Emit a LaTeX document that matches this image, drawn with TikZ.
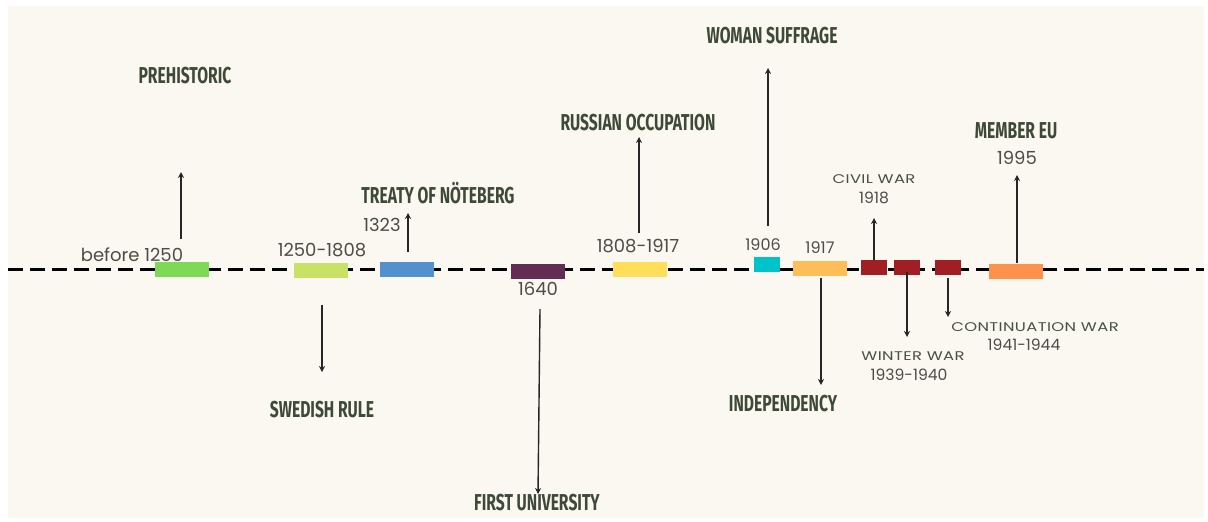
\documentclass[tikz,border=0pt]{standalone}
\usepackage{fontspec}
\usepackage{xcolor}
\usetikzlibrary{arrows.meta}
\setmainfont{Poppins}
\newfontfamily\headfont[FakeStretch=0.68]{Fira Sans}
\newfontfamily\widefont[FakeStretch=1.3,LetterSpace=3]{Poppins}
\definecolor{bgcream}{HTML}{FBF7F1}
\definecolor{headtxt}{HTML}{3E4A38}
\definecolor{yeartxt}{HTML}{4D4D47}
\definecolor{cprehist}{HTML}{7ED957}
\definecolor{cswede}{HTML}{C9E265}
\definecolor{ctreaty}{HTML}{5291CB}
\definecolor{cuni}{HTML}{632C53}
\definecolor{crussia}{HTML}{FFDE59}
\definecolor{csuffrage}{HTML}{00C2CB}
\definecolor{cindep}{HTML}{FFBD59}
\definecolor{cwar}{HTML}{A11E25}
\definecolor{ceu}{HTML}{FF914D}
\tikzset{
  era/.style={inner sep=0pt,minimum width=27pt,minimum height=7.5pt},
  shortera/.style={era,minimum width=13pt},
  heading/.style={font=\headfont\bfseries\fontsize{11.5}{12}\selectfont,text=headtxt,inner sep=0pt},
  year/.style={font=\fontsize{9}{10}\selectfont,text=yeartxt,inner sep=0pt},
  smallyear/.style={font=\fontsize{7.8}{8}\selectfont,text=yeartxt,inner sep=0pt},
  smallhead/.style={font=\widefont\fontsize{6.3}{7}\selectfont,text=headtxt!85!gray,inner sep=0pt},
  evarrow/.style={-{Stealth[length=3pt,width=3pt]},line width=0.7pt,black!85}
}
\begin{document}
\begin{tikzpicture}[x=0.5pt,y=-0.5pt]
\useasboundingbox (0,0) rectangle (1208,521);
\fill[white] (0,0) rectangle (1208,521);
\fill[bgcream] (8,6) rectangle (1204,518);
% the time axis
\draw[line width=1.5pt,dash pattern=on 7.5pt off 3.5pt] (8,269) -- (1204,269);
% eras on the axis
\node[era,fill=cprehist] (bPre) at (182,269.5) {};
\node[era,fill=cswede] (bSwe) at (321,270.5) {};
\node[era,fill=ctreaty] (bTre) at (407,269) {};
\node[era,fill=cuni] (bUni) at (538,271) {};
\node[era,fill=crussia] (bRus) at (640,269) {};
\node[shortera,fill=csuffrage] (bSuf) at (766.5,264) {};
\node[era,fill=cindep] (bInd) at (820,268) {};
\node[shortera,fill=cwar] (bCiv) at (874,267) {};
\node[shortera,fill=cwar] (bWin) at (907,267) {};
\node[shortera,fill=cwar] (bCon) at (948,267) {};
\node[era,fill=ceu] (bEU) at (1016,271) {};
% years
\node[year] (yPre) at (132,255) {before 1250};
\node[year] (ySwe) at (322,250) {1250-1808};
\node[year] (yTre) at (382,225) {1323};
\node[year] (yUni) at (538,289) {1640};
\node[year] (yRus) at (638,246) {1808-1917};
\node[year,font=\fontsize{8}{9}\selectfont] (ySuf) at (763,245) {1906};
\node[year,font=\fontsize{8}{9}\selectfont] (yInd) at (820,248) {1917};
\node[smallyear] (yCiv) at (874,198) {1918};
\node[smallyear] (yWin) at (909,375) {1939-1940};
\node[smallyear] (yCon) at (1024,345) {1941-1944};
\node[year] (yEU) at (1017,158) {1995};
% events
\node[heading] (tPre) at (185,76) {PREHISTORIC};
\node[heading] (tTre) at (438,193) {TREATY OF NÖTEBERG};
\node[heading] (tSwe) at (322,410) {SWEDISH RULE};
\node[heading] (tUni) at (537,503) {FIRST UNIVERSITY};
\node[heading] (tRus) at (638,123) {RUSSIAN OCCUPATION};
\node[heading] (tSuf) at (772,36) {WOMAN SUFFRAGE};
\node[heading] (tInd) at (783,404) {INDEPENDENCY};
\node[heading] (tEU) at (1016,131) {MEMBER EU};
\node[smallhead] (tCiv) at (874,179) {CIVIL WAR};
\node[smallhead] (tWin) at (913,356) {WINTER WAR};
\node[smallhead] (tCon) at (1035,327) {CONTINUATION WAR};
% pointers
\coordinate (pPre0) at (181,239); \coordinate (pPre1) at (181,172);
\coordinate (pTre0) at (408,252); \coordinate (pTre1) at (408,213);
\coordinate (pSwe0) at (322,305); \coordinate (pSwe1) at (322,372);
\coordinate (pUni0) at (540,309); \coordinate (pUni1) at (538,494);
\coordinate (pRus0) at (639,233); \coordinate (pRus1) at (639,137);
\coordinate (pSuf0) at (768,226); \coordinate (pSuf1) at (768,68);
\coordinate (pInd0) at (821,278); \coordinate (pInd1) at (821,385);
\coordinate (pCiv0) at (874,260); \coordinate (pCiv1) at (874,218);
\coordinate (pWin0) at (907,272); \coordinate (pWin1) at (907,337);
\coordinate (pCon0) at (948,278); \coordinate (pCon1) at (948,317);
\coordinate (pEU0) at (1017,263); \coordinate (pEU1) at (1017,175);
\foreach \e in {Pre,Tre,Swe,Uni,Rus,Suf,Ind,Civ,Win,Con,EU}
  \draw[evarrow] (p\e0) -- (p\e1);
\end{tikzpicture}
\end{document}
